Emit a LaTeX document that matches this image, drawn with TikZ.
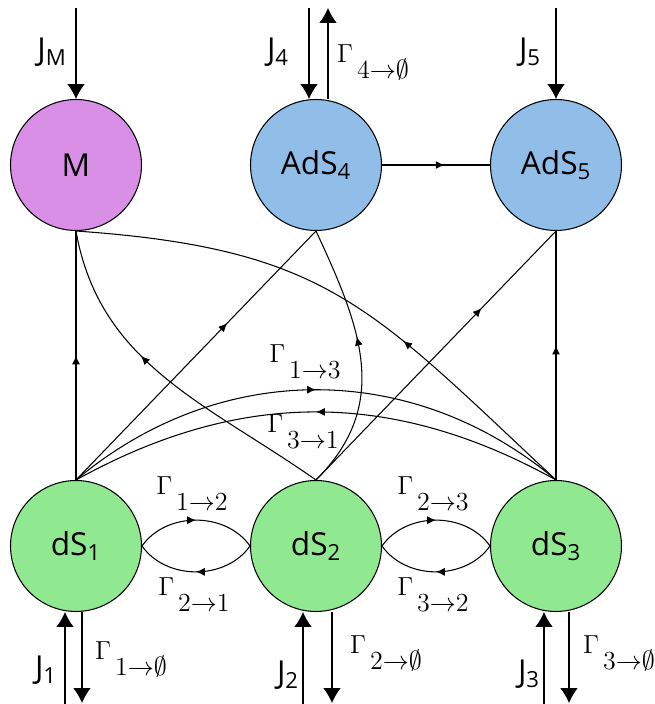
\documentclass[tikz,border=0pt]{standalone}
\usepackage{amssymb,amsmath}
\usepackage{fontspec}
\setmainfont{Open Sans}
\usepackage{xcolor}
\usetikzlibrary{arrows.meta}
\usetikzlibrary{decorations.markings}

\definecolor{Mcol}{RGB}{217,143,230}
\definecolor{AdScol}{RGB}{145,190,232}
\definecolor{dScol}{RGB}{144,232,144}
\newcommand{\ratelab}[2]{\scalebox{1.03}{$\Gamma\kern0.15em\raisebox{-0.62em}{$#1{\to}#2$}$}}

\begin{document}
\begin{tikzpicture}[x=0.02cm,y=0.02cm,line width=0.6pt,
  state/.style={circle,draw=black,line width=0.6pt,minimum size=2.62cm,inner sep=0pt,font=\fontsize{18}{20}\selectfont},
  flux/.style={-{Latex[length=8.5pt,width=10pt]}},
  midarr/.style={postaction={decorate},decoration={markings,mark=at position #1 with {\arrow{Latex[length=5pt,width=4.5pt]}}}},
  midarr/.default=0.5,
  rate/.style={font=\fontsize{14.4}{16}\selectfont,inner sep=0pt},
  src/.style={font=\fontsize{18}{20}\selectfont}]
\useasboundingbox (0,0) rectangle (655,704);
%% the six states
\node[state,fill=Mcol] (M) at (76,539) {M};
\node[state,fill=AdScol] (AdS4) at (316,539) {AdS\textsubscript{4}};
\node[state,fill=AdScol] (AdS5) at (556,539) {AdS\textsubscript{5}};
\foreach \i/\xx in {1/76, 2/316, 3/556}
    \node[state,fill=dScol] (dS\i) at (\xx,158) {dS\textsubscript{\i}};
%% sources and sinks on top
\coordinate (inM) at (76,696);
\coordinate (in4) at (309,696);
\coordinate (out4) at (328,696);
\coordinate (in5) at (556,696);
\draw[flux] (inM) -- (M);
\draw[flux] (in4) -- (in4 |- AdS4.north);
\draw[flux] (out4 |- AdS4.north) -- (out4);
\draw[flux] (in5) -- (AdS5);
\node[src] (JM) at (52,652) {J\textsubscript{M}};
\node[src] (J4) at (278,652) {J\textsubscript{4}};
\node[src] (J5) at (530,652) {J\textsubscript{5}};
\node[rate] (G4) at (373,642) {\ratelab{4}{\emptyset}};
%% sources and sinks at the bottom
\foreach \i/\xin/\xout in {1/65/82, 2/303/332, 3/544/569} {
    \coordinate (bin\i) at (\xin,0);
    \coordinate (bout\i) at (\xout,1);
    \draw[flux] (bin\i) -- (bin\i |- dS\i.south);
    \draw[flux] (bout\i |- dS\i.south) -- (bout\i);
}
\node[src] (J1) at (46,34) {J\textsubscript{1}};
\node[src] (J2) at (288,29) {J\textsubscript{2}};
\node[src] (J3) at (529,30) {J\textsubscript{3}};
\node[rate] (G1) at (131,45) {\ratelab{1}{\emptyset}};
\node[rate] (G2) at (386,51) {\ratelab{2}{\emptyset}};
\node[rate] (G3) at (619,51) {\ratelab{3}{\emptyset}};
%% transitions upwards
\draw[midarr=0.5] (dS1.north) -- (M.south);
\draw[midarr=0.63] (dS1.north) -- (AdS4.south);
\draw[midarr=0.6] (dS2.north) to[out=145,in=-80] (M.south);
\draw[midarr=0.58] (dS2.north) to[out=45,in=-65,looseness=1.1] (AdS4.south);
\draw[midarr=0.69] (dS2.north) -- (AdS5.south);
\draw[midarr=0.37] (dS3.north) to[out=137,in=-4,looseness=1.2] (M.south);
\draw[midarr=0.54] (dS3.north) -- (AdS5.south);
\draw[midarr=0.58] (AdS4) -- (AdS5);
%% transitions between the dS states
\draw[midarr] (dS1.north) to[bend left=40] (dS3.north);
\draw[midarr] (dS3.north) to[bend right=29] (dS1.north);
\node[rate] (G13) at (305,342) {\ratelab{1}{3}};
\node[rate] (G31) at (303,272) {\ratelab{3}{1}};
\draw[midarr] (dS1.east) to[bend left=55] (dS2.west);
\draw[midarr] (dS2.west) to[bend left=55] (dS1.east);
\draw[midarr] (dS2.east) to[bend left=55] (dS3.west);
\draw[midarr] (dS3.west) to[bend left=55] (dS2.east);
\node[rate] (G12) at (192,210) {\ratelab{1}{2}};
\node[rate] (G21) at (194,109) {\ratelab{2}{1}};
\node[rate] (G23) at (433,210) {\ratelab{2}{3}};
\node[rate] (G32) at (433,109) {\ratelab{3}{2}};
\end{tikzpicture}
\end{document}
